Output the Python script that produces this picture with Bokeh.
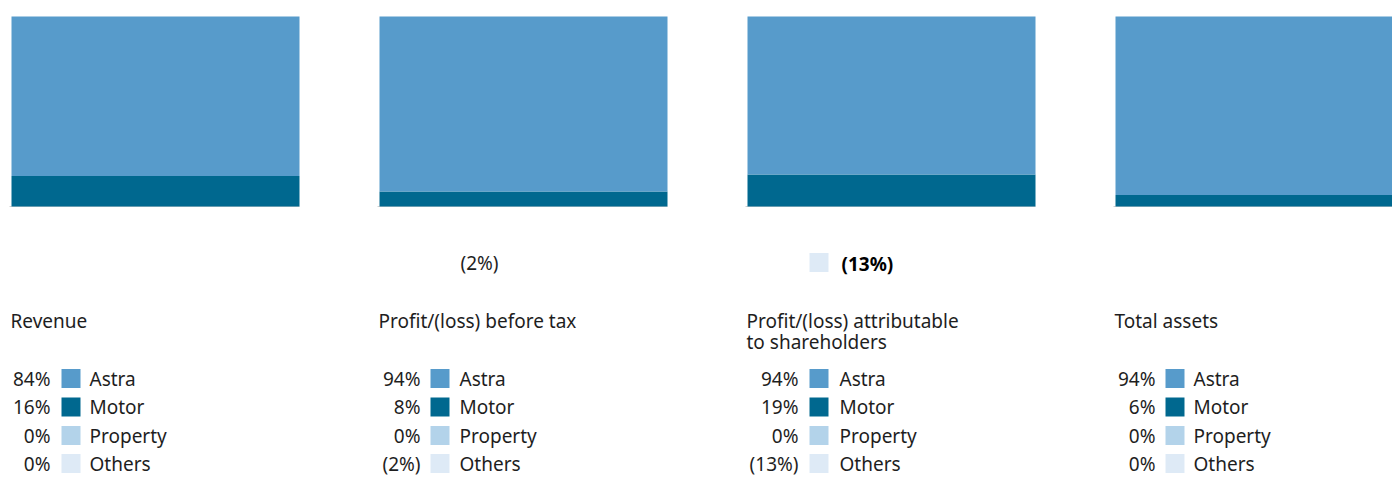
from bokeh.plotting import figure
from bokeh.models import Range1d
from bokeh.core.properties import value
from bokeh.embed import file_html
from bokeh.resources import INLINE

# ---------------- data ----------------
metrics = ["Revenue", "Profit/(loss) before tax",
           "Profit/(loss) attributable\nto shareholders", "Total assets"]
segments = ["Astra", "Motor", "Property", "Others"]
astra = [84, 94, 94, 94]
motor = [16, 8, 19, 6]
property_ = [0, 0, 0, 0]
others = [0, -2, -13, 0]
colors = ["#579bcb", "#00688f", "#b3d3ea", "#deeaf6"]

# ---------------- layout helpers (pixels) ----------------
W, H = 1392, 477
PITCH = 368.0          # px between panels
BAR_W = 288.0          # px bar width
X0 = 11.0              # canvas px of first bar left
BAR_TOP, BAR_BOT = 16.0, 206.0  # canvas px
SCALE = (BAR_BOT - BAR_TOP) / 100.0

def xu(i, px):
    return i + px / PITCH

def yu(py):
    return (BAR_BOT - py) / SCALE

def fmt(v):
    return f"{v}%" if v >= 0 else f"({-v}%)"

p = figure(width=W, height=H, output_backend="svg", toolbar_location=None,
           x_range=Range1d(-X0 / PITCH, -X0 / PITCH + W / PITCH),
           y_range=Range1d(-(H - BAR_BOT) / SCALE, BAR_BOT / SCALE),
           min_border=0)
p.axis.visible = False
p.grid.visible = False
p.outline_line_color = None
p.background_fill_color = "white"
p.border_fill_color = "white"

FONT = value("Noto Sans")
TXT = "#1e1e1e"
FS = "19px"

series = [astra, motor, property_, others]
n = len(metrics)

# baselines
p.segment(x0=[xu(i, -2) for i in range(n)], y0=[0] * n,
          x1=[xu(i, BAR_W) for i in range(n)], y1=[0] * n,
          line_color="#d0d0d0", line_width=1)

# stacked bars normalised to positive total
for i in range(n):
    vals = [s[i] for s in series]
    pos_total = sum(v for v in vals if v > 0)
    bottom = 0.0
    for k in reversed(range(len(segments))):
        v = vals[k]
        if v <= 0:
            continue
        h = v / pos_total * 100.0
        p.quad(left=[i], right=[xu(i, BAR_W)], bottom=[bottom], top=[bottom + h],
               fill_color=colors[k], line_color=None)
        bottom += h

# percent column widths (right edge of value text, relative to bar left)
val_right = [39, 41, 51, 40]
sq_left = [50, 51, 62, 50]
name_left = [78, 80, 92, 78]
row_y = [378, 406.5, 435, 463]
SQ = 19

for i in range(n):
    # title
    for j, line in enumerate(metrics[i].split("\n")):
        p.text(x=[xu(i, -1)], y=[yu(320 + 21 * j)], text=[line],
               text_font=FONT, text_font_size=FS, text_color=TXT,
               text_align="left", text_baseline="middle")
    # legend rows
    for k, seg in enumerate(segments):
        v = series[k][i]
        yc = row_y[k]
        p.text(x=[xu(i, val_right[i])], y=[yu(yc)], text=[fmt(v)],
               text_font=FONT, text_font_size=FS, text_color=TXT,
               text_align="right", text_baseline="middle")
        p.quad(left=[xu(i, sq_left[i])], right=[xu(i, sq_left[i] + SQ)],
               bottom=[yu(yc + SQ / 2)], top=[yu(yc - SQ / 2)],
               fill_color=colors[k], line_color=None)
        p.text(x=[xu(i, name_left[i])], y=[yu(yc)], text=[seg],
               text_font=FONT, text_font_size=FS, text_color=TXT,
               text_align="left", text_baseline="middle")

# negative "Others" labels under bars
# panel 2: text only; panel 3: square + bold text
p.text(x=[xu(1, 81)], y=[yu(262)], text=[fmt(others[1])],
       text_font=FONT, text_font_size=FS, text_color=TXT,
       text_align="left", text_baseline="middle")
p.quad(left=[xu(2, 62)], right=[xu(2, 62 + SQ)],
       bottom=[yu(262 + SQ / 2)], top=[yu(262 - SQ / 2)],
       fill_color=colors[3], line_color=None)
p.text(x=[xu(2, 94)], y=[yu(263)], text=[fmt(others[2])],
       text_font=FONT, text_font_size=FS, text_color="#000000",
       text_font_style="bold",
       text_align="left", text_baseline="middle")

open("out.html", "w").write(file_html(p, INLINE))
